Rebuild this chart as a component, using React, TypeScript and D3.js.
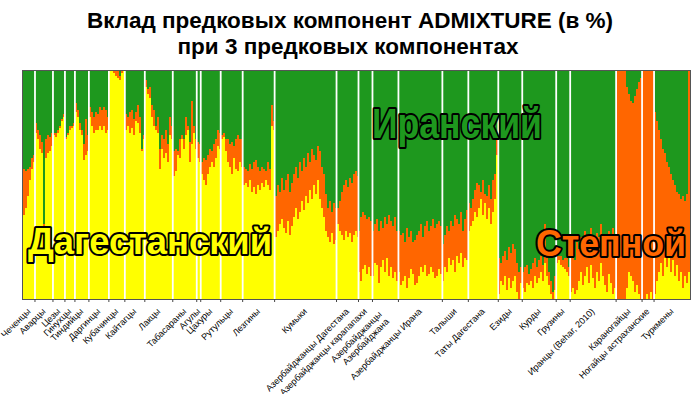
import React from 'react';
import * as d3 from 'd3';

// Populations (x-axis tick labels)
const populations: string[] = [
  'Чеченцы', 'Аварцы', 'Цезы', 'Гинухцы', 'Тиндийцы', 'Даргинцы', 'Кубачинцы', 'Кайтагцы',
  'Лакцы', 'Табасараны', 'Агулы', 'Цахуры', 'Рутульцы', 'Лезгины', 'Кумыки',
  'Азербайджанцы Дагестана', 'Азербайджанцы карапапахи', 'Азербайджанцы\nАзербайджана',
  'Азербайджанцы Ирана', 'Талыши', 'Таты Дагестана', 'Езиды', 'Курды', 'Грузины',
  'Иранцы (Behar, 2010)', 'Караногайцы', 'Ногайцы астраханские', 'Туркмены',
];

// Дагестанский component (yellow), % per individual
const dagestanShare: number[][] = [
  [37, 40, 45, 52, 57, 60],
  [73, 70, 66, 64, 32, 62, 64, 65, 67],
  [72, 71, 73, 75, 78, 80],
  [70, 72, 74, 75, 76],
  [82, 80, 74, 72, 61, 63, 65],
  [80, 76, 73, 74, 74, 76, 74, 76, 73, 74],
  [100, 100, 99, 98, 97, 96, 99, 100],
  [74, 76, 73, 75, 72, 78, 77, 73, 65, 70],
  [93, 90, 88, 80, 76, 74, 73, 57, 66, 62, 64, 60, 72, 70],
  [54, 56, 63, 62, 70, 66, 72, 74, 60, 68, 73, 66],
  [62, 60],
  [55, 52, 50, 55, 58, 60, 58, 62, 67, 66],
  [70, 71, 65, 60, 58, 55, 62, 57, 56, 60, 58],
  [50, 51, 49, 52, 47, 49, 46, 50, 48, 51, 49, 52, 50, 48, 76, 74],
  [27, 30, 33, 35, 31, 29, 34, 28, 32, 36, 40, 35, 38, 43, 39, 45, 42, 48, 44, 50, 46, 52, 44, 40, 36, 30, 27, 25, 29, 24, 26],
  [33, 30, 28, 26, 30, 27, 29, 25, 28, 30, 27],
  [12, 8, 13, 15, 11, 14, 10],
  [10, 16, 15, 7, 14, 17, 12, 18, 10, 14, 9, 12, 8],
  [12, 6, 8, 10, 5, 9, 13, 11, 6, 7, 10, 14, 12, 15, 10, 11, 14, 12, 9, 10, 13, 11],
  [8, 14, 12, 18, 15, 17, 12, 19, 16, 20, 14, 18, 17],
  [30, 32, 34, 38, 36, 40, 44, 37, 42, 35, 40, 33, 38, 44, 63],
  [2, 8, 6, 10, 4, 9, 5, 8, 10, 3, 0, 7],
  [5, 3, 7, 6, 8, 5, 10, 7, 9, 12, 8, 16, 10, 6, 2, 0, 4],
  [16, 17, 15, 14, 13, 12, 10],
  [3, 5, 2, 4, 8, 12, 6, 10, 14, 7, 15, 9, 5, 12, 8, 16, 10, 6, 3, 11, 7, 2, 5],
  [0, 0, 0, 0, 0, 5, 12, 10, 8, 3, 6, 2, 0],
  [0, 0, 2, 0, 3, 0],
  [2, 8, 12, 16, 10, 18, 14, 20, 12, 17, 10, 15, 8, 12, 5, 10, 7, 12],
];

// Степной component (orange), % per individual
const steppeShare: number[][] = [
  [20, 16, 12, 6, 5, 3],
  [4, 4, 6, 5, 1, 8, 8, 6, 6],
  [1, 2, 1, 1, 1, 1],
  [1, 1, 2, 1, 1],
  [4, 3, 3, 2, 7, 16, 7],
  [4, 6, 7, 8, 7, 8, 9, 8, 10, 6],
  [0, 0, 1, 2, 3, 2, 1, 0],
  [7, 4, 9, 8, 7, 4, 8, 7, 1, 2],
  [3, 2, 5, 5, 7, 2, 7, 9, 6, 8, 10, 8, 8, 6],
  [11, 10, 2, 8, 2, 4, 8, 2, 9, 19, 3, 4],
  [7, 8],
  [5, 10, 11, 8, 8, 5, 10, 8, 7, 7],
  [2, 2, 5, 10, 10, 14, 5, 13, 16, 10, 12],
  [8, 6, 7, 7, 10, 11, 15, 8, 8, 7, 8, 4, 10, 9, 9, 4],
  [18, 20, 14, 18, 17, 23, 21, 19, 19, 19, 18, 18, 22, 13, 23, 13, 22, 12, 22, 13, 15, 15, 21, 18, 19, 16, 13, 18, 9, 18, 14],
  [7, 13, 19, 24, 22, 22, 24, 26, 27, 26, 27],
  [18, 28, 25, 22, 24, 22, 24],
  [20, 17, 20, 23, 20, 14, 24, 15, 27, 20, 23, 24, 22],
  [18, 22, 21, 15, 26, 18, 17, 14, 20, 21, 20, 19, 15, 17, 24, 19, 18, 23, 22, 23, 21, 21],
  [16, 14, 20, 12, 19, 15, 25, 16, 17, 18, 16, 17, 22],
  [12, 8, 10, 10, 15, 10, 3, 15, 4, 10, 10, 11, 14, 11, 9],
  [16, 8, 13, 11, 13, 14, 15, 16, 12, 13, 12, 7],
  [7, 11, 8, 5, 5, 11, 8, 7, 8, 7, 7, 17, 8, 6, 6, 3, 6],
  [3, 2, 4, 3, 5, 6, 4],
  [17, 18, 15, 21, 14, 15, 18, 20, 14, 19, 16, 16, 17, 17, 19, 17, 18, 18, 17, 19, 19, 29, 17],
  [100, 100, 100, 100, 100, 88, 78, 77, 78, 86, 86, 93, 97],
  [100, 100, 98, 100, 97, 100],
  [80, 70, 62, 54, 56, 46, 46, 38, 43, 35, 40, 32, 38, 32, 40, 33, 39, 88],
];

const componentNames = ['Дагестанский', 'Степной', 'Иранский'];
const componentColors = ['#FFFF00', '#FF6600', '#1E981E'];
const titleLines = ['Вклад предковых компонент ADMIXTURE (в %)', 'при 3 предковых компонентах'];

export default function App() {
  const W = 700, H = 394;
  const left = 23, right = 690, top = 71, bottom = 299;

  const individuals = populations.flatMap((p, gi) =>
    dagestanShare[gi].map((d, i) => ({ id: `${gi}-${i}`, g: gi, dag: d, step: steppeShare[gi][i] }))
  );
  const x = d3.scaleBand<string>().domain(individuals.map(d => d.id)).range([left, right]).padding(0);
  const y = d3.scaleLinear().domain([0, 100]).range([bottom, top]);
  const bw = x.bandwidth();

  const groupSpans = populations.map((p, gi) => {
    const first = x(`${gi}-0`)!;
    const last = x(`${gi}-${dagestanShare[gi].length - 1}`)! + bw;
    return { name: p, x0: first, x1: last, c: (first + last) / 2 };
  });

  const font = '"Liberation Sans", Arial, sans-serif';

  return (
    <svg width={W} height={H} style={{ position: 'absolute', left: 0, top: 0, display: 'block', background: '#fff' }}>
      <g fontFamily={font} fontWeight="bold" fontSize={22.5} textAnchor="middle" fill="#000">
        <text x={350} y={28}>{titleLines[0]}</text>
        <text x={348} y={54}>{titleLines[1]}</text>
      </g>
      <g shapeRendering="crispEdges">
        {individuals.map(d => {
          const xx = x(d.id)!;
          const yDag = y(d.dag);
          const yStep = y(Math.min(100, d.dag + d.step));
          return (
            <g key={d.id}>
              <rect x={xx} width={bw + 0.3} y={yStep} height={y(0) - yStep} fill={componentColors[1]} />
              <rect x={xx} width={bw + 0.3} y={yDag} height={y(0) - yDag} fill={componentColors[0]} />
              <rect x={xx} width={bw + 0.3} y={y(100)} height={yStep - y(100)} fill={componentColors[2]} />
            </g>
          );
        })}
      </g>
      {groupSpans.slice(1).map((s, i) => (
        <line key={'sep' + i} x1={s.x0} x2={s.x0} y1={y(100)} y2={y(0)} stroke="#fff" strokeWidth={1.8} />
      ))}
      <rect x={left - 0.5} y={top - 0.5} width={right - left + 1} height={bottom - top + 1} fill="none" stroke="#555" strokeWidth={1} />
      {groupSpans.slice(1).map((s, i) => (
        <line key={'tk' + i} x1={s.x0} x2={s.x0} y1={bottom + 0.5} y2={bottom + 3} stroke="#444" strokeWidth={1} />
      ))}
      <g fontFamily={font} fontSize={9} fill="#000" textAnchor="end">
        {groupSpans.map((s, i) => {
          const lines = s.name.split('\n');
          const ax = lines.length > 1 ? s.c - 3 : s.c + 2;
          const ay = lines.length > 1 ? 315 : 312;
          return (
            <text key={'lb' + i} transform={`translate(${ax},${ay}) rotate(-45)`}>
              {lines.map((l, j) => (
                <tspan key={j} x={0} dy={j === 0 ? 0 : 10}>{l}</tspan>
              ))}
            </text>
          );
        })}
      </g>
      <g fontFamily={font} fontWeight="bold" stroke="#000" strokeWidth={4} strokeLinejoin="round" style={{ paintOrder: 'stroke' }}>
        <text x={28} y={254} fontSize={37} fill={componentColors[0]} textLength={244} lengthAdjust="spacingAndGlyphs">{componentNames[0]}</text>
        <text x={372} y={138} fontSize={42} fill={componentColors[2]} textLength={170} lengthAdjust="spacingAndGlyphs">{componentNames[2]}</text>
        <text x={536} y={256} fontSize={37} fill={componentColors[1]} textLength={150} lengthAdjust="spacingAndGlyphs">{componentNames[1]}</text>
      </g>
    </svg>
  );
}
